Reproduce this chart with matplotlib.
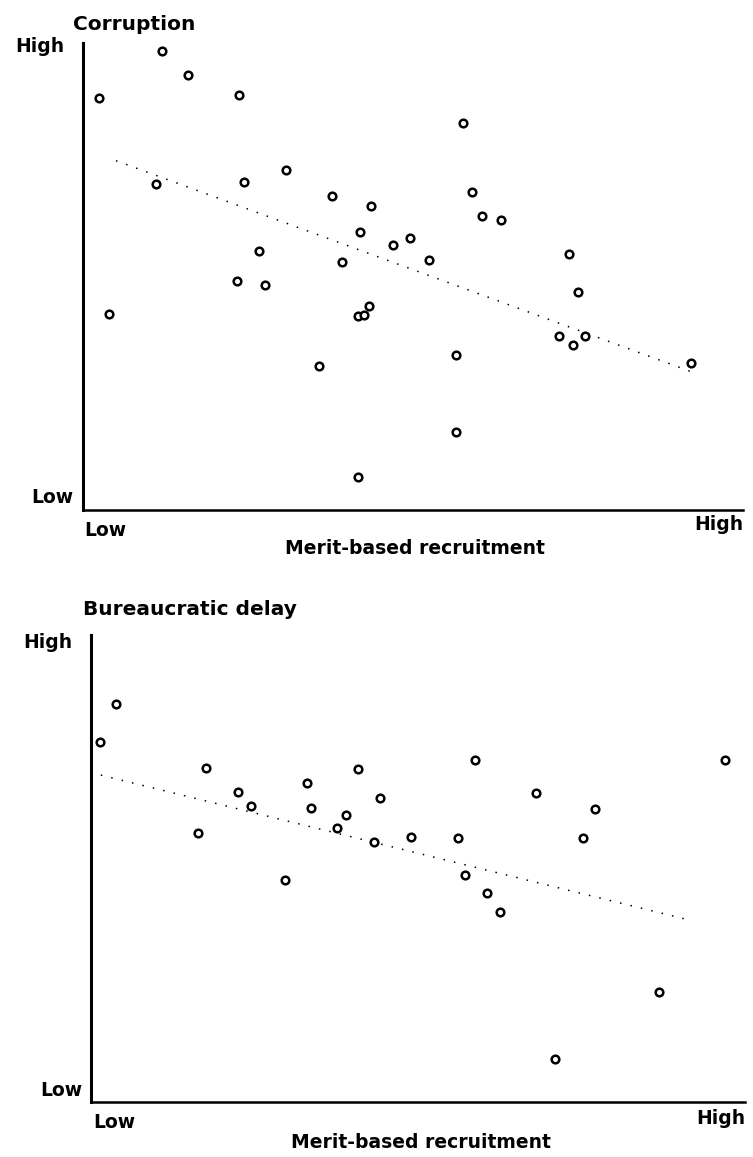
import matplotlib.pyplot as plt

W, H = 753, 1157

# top panel: corruption vs merit-based recruitment (0-100 scale)
corr_x = [12.0, 15.9, 2.4, 23.7, 11.1, 24.4, 30.8, 37.8, 43.7, 41.9, 26.7, 39.3,
          23.4, 27.5, 57.5, 58.9, 60.4, 63.3, 49.6, 47.0, 52.4, 73.6, 75.0, 3.9,
          35.8, 41.6, 41.6, 42.5, 43.4, 72.1, 74.2, 76.0, 92.1, 56.5, 56.5]
corr_y = [98.3, 93.1, 88.2, 88.8, 69.9, 70.3, 72.7, 67.3, 65.2, 59.6, 55.5, 53.1,
          49.0, 48.2, 82.8, 68.2, 63.0, 62.2, 58.3, 56.8, 53.5, 54.8, 46.7, 41.9,
          30.8, 7.1, 41.5, 41.7, 43.7, 37.2, 35.3, 37.2, 31.4, 33.1, 16.8]
corr_trend_x = [5.0, 92.0]
corr_trend_y = [74.8, 29.7]

# bottom panel: bureaucratic delay vs merit-based recruitment
delay_x = [3.8, 1.4, 17.6, 22.5, 24.4, 16.4, 33.1, 33.6, 40.9, 39.0, 37.6, 43.3,
           58.7, 96.9, 68.1, 77.1, 44.2, 48.9, 56.1, 75.3, 29.6, 57.2, 60.6, 62.6,
           86.8, 71.0]
delay_y = [85.2, 77.1, 71.5, 66.4, 63.4, 57.6, 68.3, 63.0, 71.3, 61.5, 58.7, 55.7,
           73.2, 73.2, 66.2, 62.7, 65.1, 56.7, 56.5, 56.5, 47.5, 48.6, 44.8, 40.7,
           23.6, 9.2]
delay_trend_x = [1.5, 91.4]
delay_trend_y = [70.0, 39.0]

plt.rcParams['font.family'] = ['DejaVu Sans']

fig = plt.figure(figsize=(W / 100, H / 100), dpi=100)


def ftext(x, y, s, **kw):
    # place text by pixel position in the figure
    fig.text(x / W, 1 - y / H, s, fontweight='bold', color='black', **kw)


def panel(left, top, right, bottom, xs, ys, tx, ty):
    ax = fig.add_axes([left / W, 1 - bottom / H, (right - left) / W, (bottom - top) / H])
    ax.plot(tx, ty, color='black', lw=1.1, linestyle=(0, (1, 6)))
    ax.plot(xs, ys, 'o', ms=5.5, mfc='white', mec='black', mew=1.8, linestyle='none',
            clip_on=False)
    ax.set_xlim(0, 100)
    ax.set_ylim(0, 100)
    ax.set_xticks([])
    ax.set_yticks([])
    for s in ['top', 'right']:
        ax.spines[s].set_visible(False)
    ax.spines['left'].set_linewidth(2.2)
    ax.spines['bottom'].set_linewidth(1.8)
    return ax


panel(83, 43, 743, 510, corr_x, corr_y, corr_trend_x, corr_trend_y)
ftext(73, 24, 'Corruption', fontsize=14.5, ha='left', va='center')
ftext(64, 47, 'High', fontsize=13.5, ha='right', va='center')
ftext(73, 497, 'Low', fontsize=13.5, ha='right', va='center')
ftext(84, 530, 'Low', fontsize=13.5, ha='left', va='center')
ftext(743, 525, 'High', fontsize=13.5, ha='right', va='center')
ftext(415, 549, 'Merit-based recruitment', fontsize=13.5, ha='center', va='center')

panel(91, 635, 745, 1102, delay_x, delay_y, delay_trend_x, delay_trend_y)
ftext(83, 610, 'Bureaucratic delay', fontsize=14.5, ha='left', va='center')
ftext(72, 642, 'High', fontsize=13.5, ha='right', va='center')
ftext(82, 1090, 'Low', fontsize=13.5, ha='right', va='center')
ftext(93, 1123, 'Low', fontsize=13.5, ha='left', va='center')
ftext(745, 1118, 'High', fontsize=13.5, ha='right', va='center')
ftext(421, 1143, 'Merit-based recruitment', fontsize=13.5, ha='center', va='center')

fig.savefig('out.png', dpi=100, facecolor='white')
